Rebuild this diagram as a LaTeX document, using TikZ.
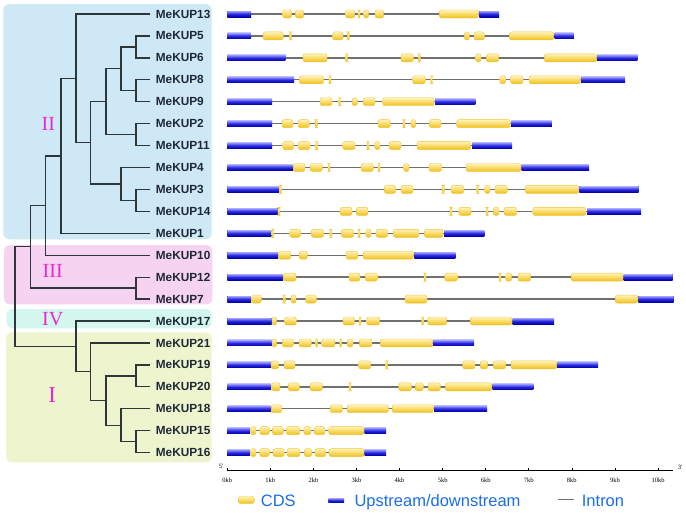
\documentclass[tikz,border=0pt]{standalone}
\usepackage{fontspec}
\setmainfont{Liberation Sans}
\newfontfamily\serifface{Liberation Serif}
\usepackage{tikz}
\usetikzlibrary{positioning}
\definecolor{boxII}{RGB}{206,233,245}
\definecolor{boxIII}{RGB}{247,211,242}
\definecolor{boxIV}{RGB}{211,246,238}
\definecolor{boxI}{RGB}{238,244,206}
\definecolor{treeline}{RGB}{45,55,58}
\definecolor{labeltext}{RGB}{30,40,55}
\definecolor{clademag}{RGB}{236,40,205}
\definecolor{introngray}{RGB}{112,112,112}
\definecolor{utrtop}{RGB}{160,160,255}
\definecolor{utrmid}{RGB}{40,40,225}
\definecolor{utrbot}{RGB}{0,0,165}
\definecolor{cdstop}{RGB}{255,243,190}
\definecolor{cdsmid}{RGB}{249,218,100}
\definecolor{cdsbot}{RGB}{238,190,30}
\definecolor{cdsedge}{RGB}{240,198,45}
\definecolor{keytext}{RGB}{25,110,235}
\tikzset{
    branch/.style={
        draw=treeline,
        line width=1.3pt
    },
    genelabel/.style={
        anchor=west,
        inner sep=0pt,
        text=labeltext,
        font=\bfseries\fontsize{11.8}{12}\selectfont
    },
    cladebox/.style={
        rounded corners=6pt
    },
    cladename/.style={
        text=clademag,
        inner sep=0pt,
        font=\serifface\fontsize{20}{20}\selectfont
    },
    intron/.style={
        draw=introngray,
        line width=1.4pt
    },
    utr/.style={
        top color=utrtop,
        bottom color=utrbot,
        middle color=utrmid
    },
    cds/.style={
        rounded corners=2.2pt,
        top color=cdstop,
        bottom color=cdsbot,
        middle color=cdsmid,
        draw=cdsedge,
        line width=0.4pt
    },
    kblabel/.style={
        inner sep=0pt,
        font=\serifface\fontsize{6.5}{7}\selectfont
    },
    keylabel/.style={
        anchor=base west,
        inner sep=0pt,
        text=keytext,
        font=\fontsize{16.5}{17}\selectfont
    }
}
\newcommand{\genemodel}[4]{%
  \pgfmathsetmacro{\gy}{14+21.93*#1}
  \draw[intron] (227.3,\gy) -- (#2,\gy);
  \foreach \a/\b in {#3} {\fill[utr] (\a,\gy-3) rectangle (\b,\gy+3);}
  \foreach \a/\b in {#4} {\path[cds] (\a,\gy-4) rectangle (\b,\gy+4);}
}

\begin{document}
\begin{tikzpicture}[x=1pt, y=-1pt]
  \useasboundingbox (0,0) rectangle (686,512);

  \fill[cladebox, boxII] (3.3,4) rectangle (211.7,239.3);
  \fill[cladebox, boxIII] (4,245) rectangle (212.3,304.3);
  \fill[cladebox, boxIV] (6.7,309) rectangle (211.7,328.3);
  \fill[cladebox, boxI] (6,332.3) rectangle (211.7,462.3);

  \node[cladename] (cII) at (48.3,124) {II};
  \node[cladename] (cIII) at (52.7,271) {III};
  \node[cladename] (cIV) at (52.7,319) {IV};
  \node[cladename, font=\serifface\fontsize{23}{23}\selectfont] (cI) at (52.3,395) {I};

  \foreach \i/\name in {0/13,1/5,2/6,3/8,4/9,5/2,6/11,7/4,8/3,9/14,10/1,
                        11/10,12/12,13/7,14/17,15/21,16/19,17/20,18/18,19/15,20/16} {
    \coordinate (t\i) at (150,{14+21.93*\i});
    \node[genelabel, right=5.7pt of t\i] (g\i) {MeKUP\name};
  }

  \foreach \p/\x/\r in {n1/136/1.5, n2/136/3.5, n3/121/2.5, n4/136/5.5, n5/106/4,
                        n6/136/8.5, n7/121/7.75, n8/90.7/5.875, n9/76/2.9375,
                        n10/61/6.46875, n11/45.7/8.734375, n12/136/12.5,
                        n13/30.7/10.6171875, n14/136/16.5, n15/136/19.5,
                        n16/121/18.75, n17/106/17.625, n18/90.7/16.3125,
                        n19/76/15.15625, n20/15/12.88671875} {
    \coordinate (\p) at (\x,{14+21.93*\r});
  }

  \foreach \p/\a/\b in {n1/t1/t2, n2/t3/t4, n3/n1/n2, n4/t5/t6, n5/n3/n4,
                        n6/t8/t9, n7/t7/n6, n8/n5/n7, n9/t0/n8, n10/n9/t10,
                        n11/n10/t11, n12/t12/t13, n13/n11/n12, n14/t16/t17,
                        n15/t19/t20, n16/t18/n15, n17/n14/n16, n18/t15/n17,
                        n19/t14/n18, n20/n13/n19} {
    \draw[branch] (\a) -| (\p) |- (\b);
  }

  \genemodel{0}{499}{227.3/251, 479.3/499}
    {282.7/291.7, 295.3/303.7, 345.7/354.7, 358/360, 363.7/368.7, 375/383.7, 439.3/478.3}
  \genemodel{1}{573.7}{227.3/251, 554.7/573.7}
    {263/283.3, 289.5/291.5, 332.7/343, 347.3/349.3, 464.3/469.3, 474/484.3, 509.3/553.7}
  \genemodel{2}{637.3}{227.3/285.3, 597/637.3}
    {303/327, 345.7/347.7, 401/413.3, 418.3/420.3, 475.7/481, 486.3/498.7, 544.3/596.7}
  \genemodel{3}{625}{227.3/294, 581/625}
    {299.3/323.7, 329/331, 412.7/425.3, 430.7/432.7, 499.7/505.7, 510.7/523, 529/580.3}
  \genemodel{4}{475.3}{227.3/272, 435/475.3}
    {320/332, 338.7/340.7, 352.3/357.3, 363.3/375, 382.7/434}
  \genemodel{5}{551.7}{227.3/272, 511.3/551.7}
    {282/293, 298/309.3, 315.3/317.3, 378/390.3, 403/405, 411/415.7, 429.3/441, 456.7/510.3}
  \genemodel{6}{512}{227.3/272, 472/512}
    {282.7/293.7, 298/310, 315.7/317.7, 342.7/355, 367/369, 374.7/380, 389/401, 417/470.7}
  \genemodel{7}{589}{227.3/292.7, 521.7/589}
    {293.3/305, 310.3/322.3, 328/330, 361/373.3, 378/380, 403.7/409, 429/441.7, 466/521}
  \genemodel{8}{638.7}{227.3/279, 579.3/638.7}
    {279.5/281.5, 384.3/395.7, 401/413, 442.3/444.3, 451/463.7, 476.7/478.7, 484.7/490,
     495/507.3, 525.3/578.7}
  \genemodel{9}{641}{227.3/277.7, 587/641}
    {278/280, 340/352, 356.3/368, 450/452, 458.7/471, 486/488, 493.3/499, 504/516.7, 532.7/586}
  \genemodel{10}{484.3}{227.3/271.3, 444/484.3}
    {271.7/273.7, 289.7/300.7, 311.3/323.7, 329.7/331.7, 341.3/353.7, 358/360, 365.7/371,
     376/387.7, 393.3/419, 424.3/443}
  \genemodel{11}{455.3}{227.3/278, 414.3/455.3}
    {278.3/290.7, 299.3/307.3, 346/358, 363.3/413.3}
  \genemodel{12}{672.7}{227.3/283, 623.7/672.7}
    {283.7/296, 349/360, 365.3/377.3, 424/426, 444.7/457.3, 499/501, 505.7/511.7, 518/530.7,
     571.3/623}
  \genemodel{13}{673.7}{227.3/251, 638.3/673.7}
    {251.7/261.3, 283.3/285.3, 291/296, 305.7/316.3, 405/427, 615.3/637.7}
  \genemodel{14}{554}{227.3/271.7, 512.7/554}
    {272/276.7, 284.7/296.3, 343/354.7, 359/361, 366.7/379.7, 421.7/423.7, 427.7/446.7, 470.3/512}
  \genemodel{15}{474}{227.3/271.7, 433.3/474}
    {272/276.7, 282.3/293.3, 299/311.3, 315.7/317.7, 321.7/335, 339.7/341.7, 347.3/353,
     359.3/372, 380.3/432.7}
  \genemodel{16}{598}{227.3/270.7, 557.3/598}
    {271/278.7, 284/295, 358.7/370.7, 385.7/387.7, 462.7/475, 480.3/487.7, 493.3/505.7, 511/556.7}
  \genemodel{17}{533.3}{227.3/271, 492.7/533.3}
    {271.7/280, 288.3/299.3, 310/322.3, 349/351, 398.7/411.3, 415.3/423.3, 428/440.3, 445.3/491.7}
  \genemodel{18}{487}{227.3/270.7, 434/487}
    {271.3/281.7, 330.3/342.3, 347.3/388.3, 392.3/433.3}
  \genemodel{19}{386}{227.3/250, 364.7/386}
    {250.7/256, 259.7/269.3, 272.3/283.3, 286.3/300, 303.7/311, 314.3/325, 328.7/364}
  \genemodel{20}{386}{227.3/250, 364.7/386}
    {250.7/256, 259.7/269.3, 273/284, 287/300, 304.3/311.7, 315/325.7, 329/364}

  \coordinate (ax0) at (227.3,470.7);
  \coordinate (ax1) at (673,470.7);
  \draw[line width=0.6pt] (ax0) -- (ax1);
  \foreach \k in {0,...,10} {
    \draw[line width=0.6pt] ({227.3+43.07*\k},470.7) -- ({227.3+43.07*\k},467.5);
    \node[kblabel] (kb\k) at ({227.3+43.07*\k},480) {\k kb};
  }
  \node[kblabel] (five) at (221,466) {5'};
  \node[kblabel] (three) at (680,467) {3'};

  \node[cds, minimum width=16pt, minimum height=7pt, inner sep=0pt] (keycds) at (246.3,500) {};
  \node[keylabel] (tcds) at (260.7,506) {CDS};
  \node[utr, minimum width=15.7pt, minimum height=4.5pt, inner sep=0pt] (keyutr) at (336.2,500.3) {};
  \node[keylabel] (tutr) at (354.3,506) {Upstream/downstream};
  \coordinate (keyi0) at (558.3,499.5);
  \coordinate (keyi1) at (574.3,499.5);
  \draw[intron] (keyi0) -- (keyi1);
  \node[keylabel] (tintron) at (581.7,506) {Intron};
\end{tikzpicture}
\end{document}
